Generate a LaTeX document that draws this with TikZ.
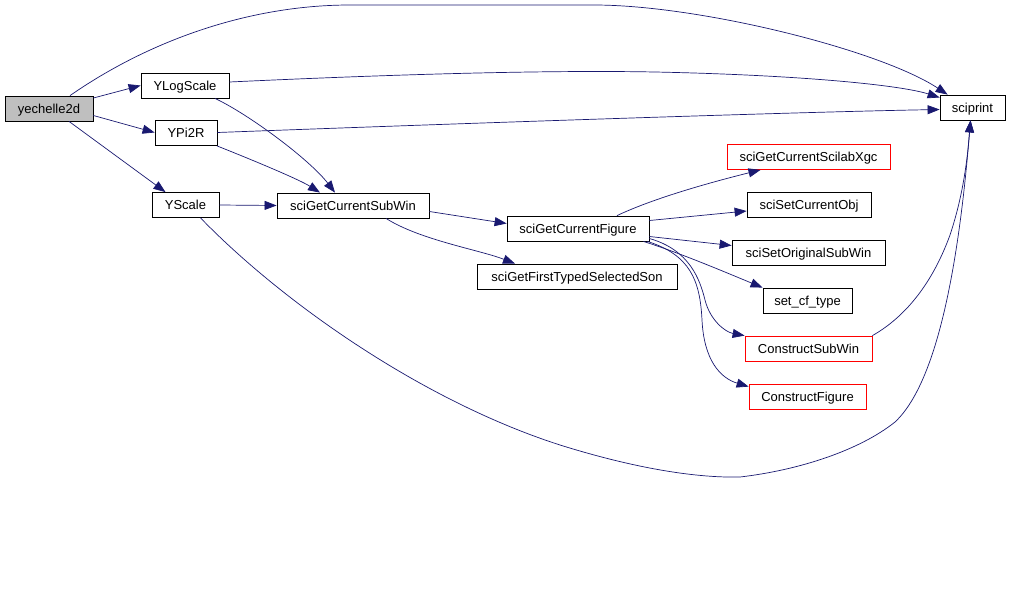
\documentclass[tikz,border=0pt]{standalone}
\usepackage{fontspec}
\setmainfont{Liberation Sans}
\usetikzlibrary{arrows.meta}
\definecolor{edgeblue}{HTML}{191970}
\begin{document}
\begin{tikzpicture}[x=1pt,y=-1pt,
  box/.style={draw=black, line width=0.8pt, minimum height=25pt, inner sep=0pt,
    text height=11.5pt, text depth=2pt, font=\fontsize{13}{15}\selectfont},
  redbox/.style={box, draw=red},
  edge/.style={draw=edgeblue, line width=0.7pt, -{Triangle[length=12pt,width=9pt]}}]
\useasboundingbox (0,0) rectangle (1010,603);
% nodes
\node[box, fill=black!25, minimum width=88pt] (ye) at (49,108.5) {yechelle2d};
\node[box, minimum width=88pt] (ylog) at (185,85.5) {YLogScale};
\node[box, minimum width=62pt] (ypi) at (186,132.5) {YPi2R};
\node[box, minimum width=67pt] (ysc) at (185.5,205) {YScale};
\node[box, minimum width=152pt] (sgsw) at (353,205.5) {sciGetCurrentSubWin};
\node[box, minimum width=142pt] (scf) at (578,228.5) {sciGetCurrentFigure};
\node[box, minimum width=200pt] (sgfts) at (577,276.5) {sciGetFirstTypedSelectedSon};
\node[redbox, minimum width=163pt] (xgc) at (808.5,157) {sciGetCurrentScilabXgc};
\node[box, minimum width=124pt] (sco) at (809,205) {sciSetCurrentObj};
\node[box, minimum width=153pt] (sosw) at (808.5,252.5) {sciSetOriginalSubWin};
\node[box, minimum width=89pt] (scft) at (807.5,300.5) {set\_cf\_type};
\node[redbox, minimum width=127pt] (csw) at (808.5,348.5) {ConstructSubWin};
\node[redbox, minimum width=117pt] (cfig) at (807.5,396.5) {ConstructFigure};
\node[box, minimum width=65pt] (sp) at (972.5,107.5) {sciprint};
% calls from yechelle2d
\draw[edge] ([yshift=10.5pt]ye.east) -- (ylog.west);
\draw[edge] ([yshift=-7pt]ye.east) -- (ypi.west);
\draw[edge] ([xshift=20pt]ye.south) -- ([xshift=-20pt]ysc.north);
\draw[edge] ([xshift=21pt]ye.north) .. controls (150,40) and (250,5) .. (350,5)
  -- (594,5) .. controls (700,5) and (880,50) .. ([xshift=8pt]sp.north west);
% to sciprint
\draw[edge] ([yshift=3.5pt]ylog.east) .. controls (400,74) and (550,70) .. (655,72)
  .. controls (800,75) and (900,85) .. ([yshift=10pt]sp.west);
\draw[edge] (ypi.east) .. controls (500,122) and (800,112) .. ([yshift=-2pt]sp.west);
\draw[edge] ([xshift=15pt]ysc.south) .. controls (280,300) and (420,400) .. (560,445)
  .. controls (640,470) and (700,478) .. (740,477)
  .. controls (800,470) and (860,450) .. (895,422)
  .. controls (940,380) and (960,250) .. ([xshift=-2pt]sp.south);
\draw[edge] (csw.north east) .. controls (900,320) and (930,290) .. (950,235)
  .. controls (965,190) and (968,150) .. ([xshift=-2pt]sp.south);
% to sciGetCurrentSubWin
\draw[edge] ([xshift=30pt]ylog.south) .. controls (250,115) and (310,160) .. ([xshift=-18pt]sgsw.north);
\draw[edge] ([xshift=31pt,yshift=-0.5pt]ypi.south) .. controls (260,163) and (300,180) .. ([xshift=-33pt]sgsw.north);
\draw[edge] (ysc.east) -- (sgsw.west);
% from sciGetCurrentSubWin
\draw[edge] ([yshift=-6pt]sgsw.east) -- ([yshift=5pt]scf.west);
\draw[edge] ([xshift=33pt]sgsw.south) .. controls (420,240) and (480,250) .. ([xshift=-62pt]sgfts.north);
% from sciGetCurrentFigure
\draw[edge] ([xshift=39pt]scf.north) .. controls (650,200) and (700,185) .. ([xshift=-48pt]xgc.south);
\draw[edge] ([yshift=8pt]scf.east) -- ([yshift=-6pt]sco.west);
\draw[edge] ([yshift=-8pt]scf.east) -- ([yshift=7pt]sosw.west);
\draw[edge] ([xshift=-6pt]scf.south east) .. controls (680,253) and (720,270) .. (scft.north west);
\draw[edge] ([yshift=-10pt]scf.east) .. controls (690,250) and (700,280) .. (705,300)
  .. controls (710,320) and (725,332) .. (csw.north west);
\draw[edge] ([xshift=-2pt]scf.south east) .. controls (690,255) and (700,280) .. (702,320)
  .. controls (704,360) and (720,378) .. ([yshift=-3pt]cfig.north west);
\end{tikzpicture}
\end{document}
